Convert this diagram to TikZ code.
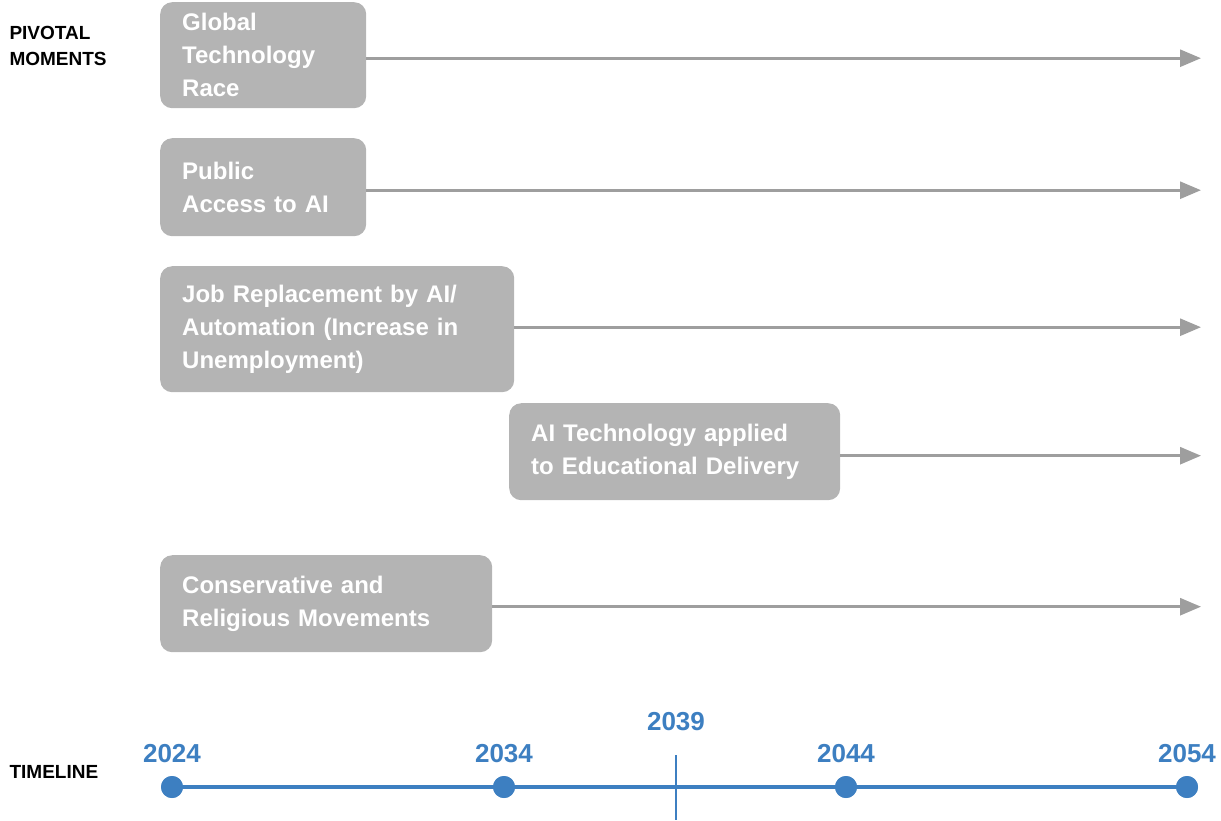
\documentclass[tikz,border=0pt]{standalone}
\usepackage{fontspec}
\setmainfont{Liberation Sans}
\usetikzlibrary{arrows.meta}
\definecolor{boxgray}{HTML}{B4B4B4}
\definecolor{arrowgray}{HTML}{9E9E9E}
\definecolor{lineblue}{HTML}{3D7FC1}
\begin{document}
\begin{tikzpicture}[x=1pt,y=-1pt,
  moment/.style={draw=none, fill=boxgray, rounded corners=12pt, anchor=north west,
    inner xsep=22pt, inner ysep=2pt, align=left, text=white,
    font=\fontsize{24}{33}\selectfont\bfseries},
  flow/.style={draw=arrowgray, line width=2.8pt, -{Triangle[length=21pt,width=17pt]}},
  sidelabel/.style={anchor=west, align=left, font=\fontsize{19}{26}\selectfont\bfseries},
  year/.style={text=lineblue, font=\fontsize{26}{30}\selectfont\bfseries},
  dot/.style={circle, fill=lineblue, minimum size=22pt, inner sep=0pt}]
\useasboundingbox (0,0) rectangle (1221,820);

% row labels
\node[sidelabel] (pm) at (6,46) {PIVOTAL\\MOMENTS};
\node[sidelabel] (tl) at (6,772) {TIMELINE};

% pivotal moments
\node[moment, text width=162pt, minimum height=106pt] (m1) at (160,2)
  {Global\\Technology\\Race};
\node[moment, text width=162pt, minimum height=98pt] (m2) at (160,138)
  {Public\\Access to AI};
\node[moment, text width=310pt, minimum height=126pt] (m3) at (160,266)
  {Job Replacement by AI/\\Automation (Increase in\\Unemployment)};
\node[moment, text width=287pt, minimum height=97pt] (m4) at (509,403)
  {AI Technology applied\\to Educational Delivery};
\node[moment, text width=288pt, minimum height=97pt] (m5) at (160,555)
  {Conservative and\\Religious Movements};

% arrows running to the end of the horizon
\coordinate (rend) at (1201,0);
\foreach \m/\dy in {m1/3,m2/3,m3/-2,m4/4,m5/3}
  \draw[flow] ([yshift=-\dy pt]\m.east) -- ([yshift=-\dy pt]\m.east -| rend);

% timeline
\node[dot] (t2024) at (172,787) {};
\node[dot] (t2034) at (504,787) {};
\node[dot] (t2044) at (846,787) {};
\node[dot] (t2054) at (1187,787) {};
\draw[lineblue, line width=4.5pt] (t2024.center) -- (t2054.center);
\foreach \t in {t2024,t2034,t2044,t2054} \node[dot] at (\t) {};
\node[year] (y2024) at (172,754) {2024};
\node[year] (y2034) at (504,754) {2034};
\node[year] (y2044) at (846,754) {2044};
\node[year] (y2054) at (1187,754) {2054};

% midpoint marker
\coordinate (mtop) at (676,755);
\coordinate (mbot) at (676,820);
\draw[lineblue, line width=2.5pt] (mtop) -- (mbot);
\node[year] (y2039) at (676,722) {2039};
\end{tikzpicture}
\end{document}
